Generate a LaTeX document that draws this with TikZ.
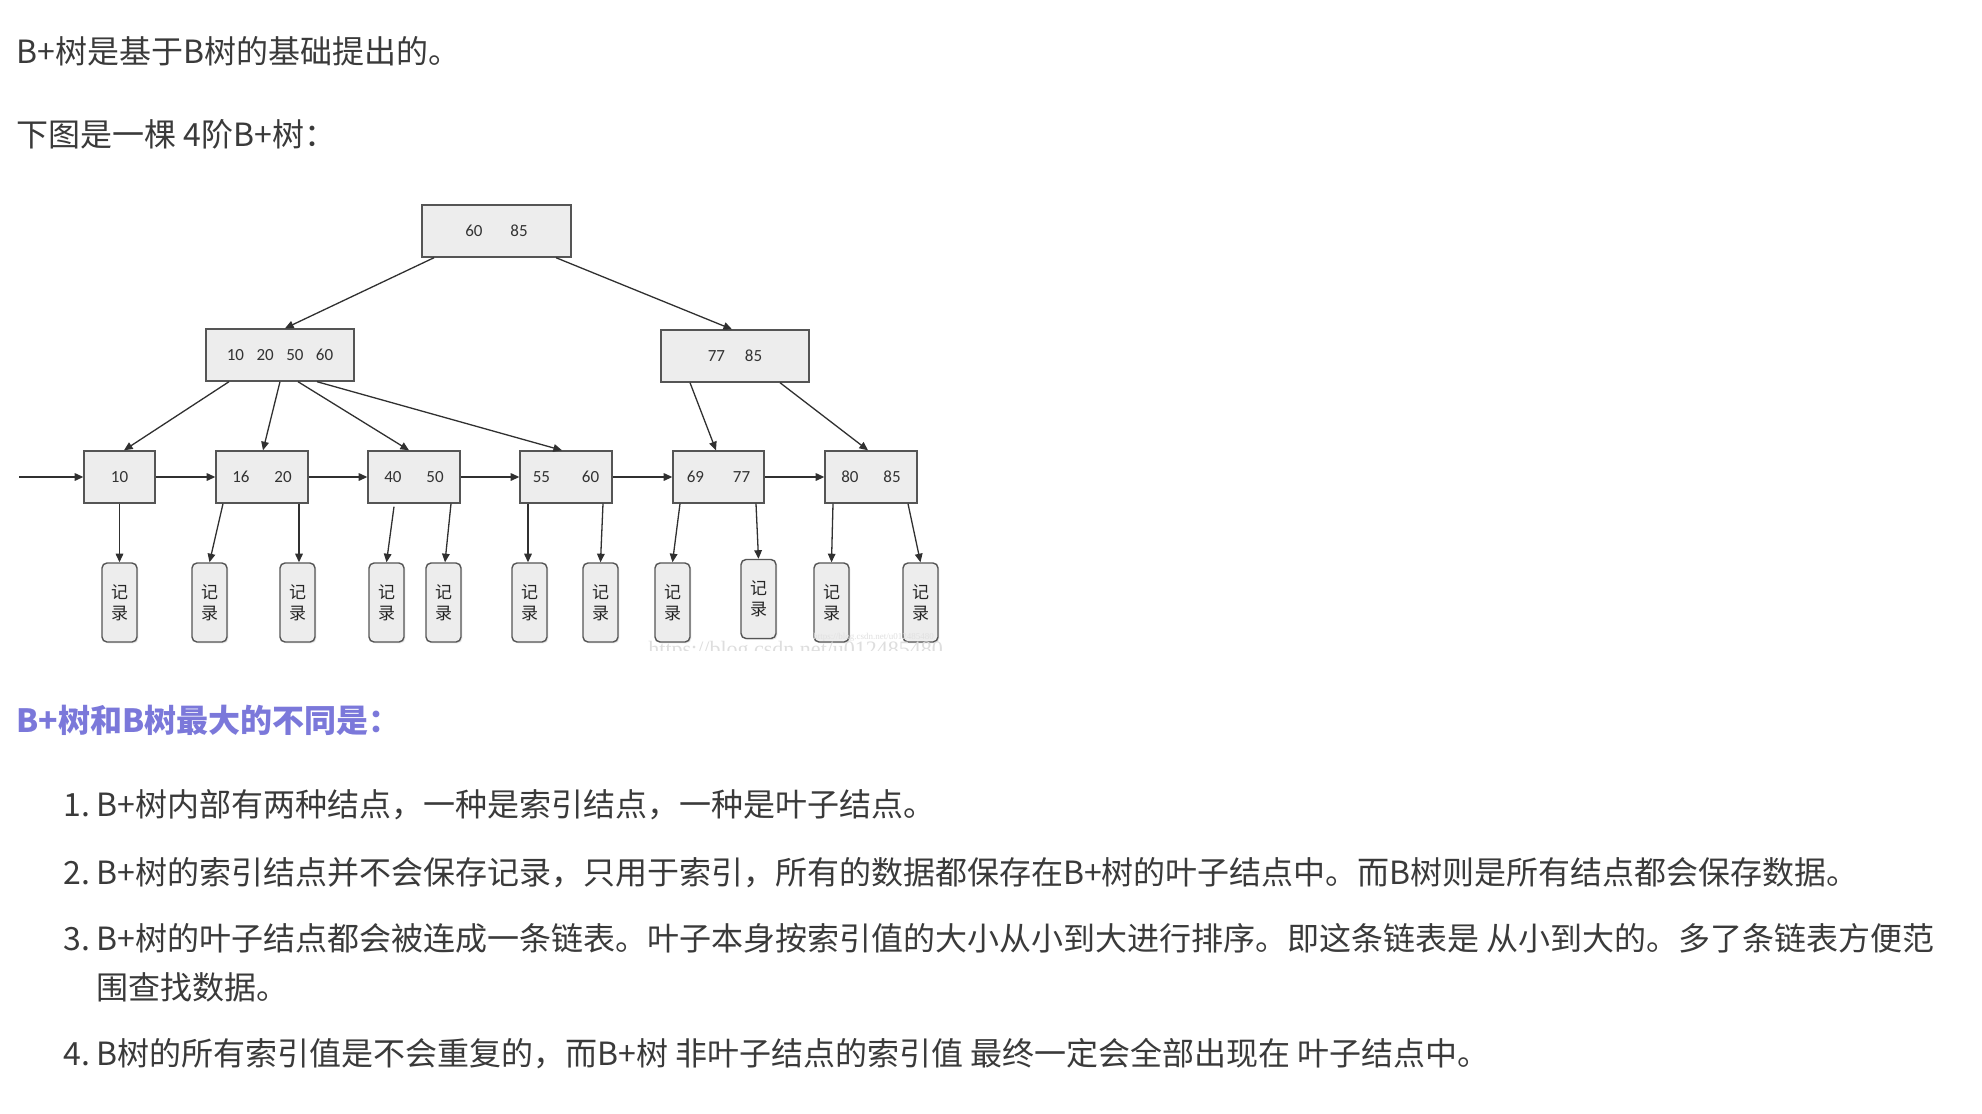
\documentclass[tikz,border=0pt]{standalone}
\usepackage{fontspec}
\setmainfont{Noto Sans CJK SC}
\newfontfamily\cjk{Noto Sans CJK SC}
\newfontfamily\numfont{Carlito}
\newfontfamily\wmfont{Liberation Serif}
\usetikzlibrary{arrows.meta,calc,shadows}
\newdimen\pxu \pxu=0.5pt
\definecolor{txt}{HTML}{3A3A3A}
\definecolor{head}{HTML}{7B78DA}
\definecolor{boxfill}{HTML}{EDEDED}
\definecolor{boxline}{HTML}{555555}
\definecolor{arr}{HTML}{303030}
\begin{document}
\begin{tikzpicture}[x=0.5pt,y=-0.5pt,
  body/.style={anchor=base west,inner sep=0pt,text=txt,font=\cjk\fontsize{16pt}{20pt}\selectfont},
  heading/.style={anchor=base west,inner sep=0pt,text=head,font=\cjk\bfseries\fontsize{16pt}{20pt}\selectfont},
  keybox/.style={draw=boxline,fill=boxfill,line width=0.7pt,inner sep=0pt,minimum height=52\pxu,
    font=\numfont\fontsize{8.5pt}{9pt}\selectfont,text=black!80,
    drop shadow={shadow xshift=0.7pt,shadow yshift=-0.7pt,opacity=0.18}},
  recbox/.style={draw=boxline,fill=boxfill,line width=0.7pt,rounded corners=2.5pt,inner sep=0pt,
    minimum width=35\pxu,minimum height=79\pxu,align=center,text=black!85,
    font=\cjk\fontsize{8.5pt}{10.5pt}\selectfont,
    drop shadow={shadow xshift=0.7pt,shadow yshift=-0.7pt,opacity=0.18}},
  link/.style={draw=arr,line width=0.65pt,-{Triangle[length=4.3pt,width=3.8pt]}}
]
\useasboundingbox[fill=white] (0,0) rectangle (1982,1114);

% ---- texts ----
\node[body] (t1) at (16,63) {B+树是基于B树的基础提出的。};
\node[body] (t2) at (16,146) {下图是一棵 4阶B+树：};
\node[heading] (h) at (16,732) {B+树和B树最大的不同是：};
\node[body] (n1) at (63,816) {1.};
\node[body] (i1) at (96,816) {B+树内部有两种结点，一种是索引结点，一种是叶子结点。};
\node[body] (n2) at (63,884) {2.};
\node[body] (i2) at (96,884) {B+树的索引结点并不会保存记录，只用于索引，所有的数据都保存在B+树的叶子结点中。而B树则是所有结点都会保存数据。};
\node[body] (n3) at (63,950) {3.};
\node[body] (i3) at (96,950) {B+树的叶子结点都会被连成一条链表。叶子本身按索引值的大小从小到大进行排序。即这条链表是 从小到大的。多了条链表方便范};
\node[body] (i3b) at (96,999) {围查找数据。};
\node[body] (n4) at (63,1065) {4.};
\node[body] (i4) at (96,1065) {B树的所有索引值是不会重复的，而B+树 非叶子结点的索引值 最终一定会全部出现在 叶子结点中。};

% ---- tree ----
\node[keybox,minimum width=149\pxu] (root) at (496.5,231) {60\hspace{27.8\pxu}85};
\node[keybox,minimum width=148\pxu] (l2a) at (280,355) {10\hspace{12.5\pxu}20\hspace{12.5\pxu}50\hspace{12.5\pxu}60};
\node[keybox,minimum width=148\pxu] (l2b) at (735,356) {77\hspace{19.8\pxu}85};

\node[keybox,minimum width=71\pxu] (la) at (119.5,477) {10};
\node[keybox,minimum width=92\pxu] (lb) at (262,477) {16\hspace{24.8\pxu}20};
\node[keybox,minimum width=92\pxu] (lc) at (414,477) {40\hspace{24.8\pxu}50};
\node[keybox,minimum width=92\pxu] (ld) at (566,477) {55\hspace{31.8\pxu}60};
\node[keybox,minimum width=91\pxu] (le) at (718.5,477) {69\hspace{28.8\pxu}77};
\node[keybox,minimum width=92\pxu] (lf) at (871,477) {80\hspace{24.8\pxu}85};

\node[recbox] (r1) at (119.5,602.5) {记\\录};
\node[recbox] (r2) at (209.5,602.5) {记\\录};
\node[recbox] (r3) at (297.5,602.5) {记\\录};
\node[recbox] (r4) at (386.5,602.5) {记\\录};
\node[recbox] (r5) at (443.5,602.5) {记\\录};
\node[recbox] (r6) at (529.5,602.5) {记\\录};
\node[recbox] (r7) at (600.5,602.5) {记\\录};
\node[recbox] (r8) at (672.5,602.5) {记\\录};
\node[recbox] (r9) at (758.5,599) {记\\录};
\node[recbox] (r10) at (831.5,602.5) {记\\录};
\node[recbox] (r11) at (920.5,602.5) {记\\录};

\coordinate (start) at (19,477);

% index links
\draw[link] ($(root.south)+(-62.5,0)$) -- ($(l2a.north)+(5,0)$);
\draw[link] ($(root.south)+(59.5,0)$) -- ($(l2b.north)+(-3,0)$);
\draw[link] ($(l2a.south)+(-51,0)$) -- ($(la.north)+(4.5,0)$);
\draw[link] ($(l2a.south)+(0,0)$) -- ($(lb.north)+(1,0)$);
\draw[link] ($(l2a.south)+(18,0)$) -- ($(lc.north)+(-5,0)$);
\draw[link] ($(l2a.south)+(37,0)$) -- ($(ld.north)+(-4,0)$);
\draw[link] ($(l2b.south)+(-45,0)$) -- ($(le.north)+(-2.5,0)$);
\draw[link] ($(l2b.south)+(45,0)$) -- ($(lf.north)+(-3,0)$);

% leaf chain
\draw[link] (start) -- (la.west);
\draw[link] (la.east) -- (lb.west);
\draw[link] (lb.east) -- (lc.west);
\draw[link] (lc.east) -- (ld.west);
\draw[link] (ld.east) -- (le.west);
\draw[link] (le.east) -- (lf.west);

% record links
\draw[link] (la.south) -- (r1.north);
\draw[link] ($(lb.south)+(-39,0)$) -- (r2.north);
\draw[link] ($(lb.south)+(37,0)$) -- ($(r3.north)+(1.5,0)$);
\draw[link] ($(lc.south)+(-20,3)$) -- (r4.north);
\draw[link] ($(lc.south)+(37,0)$) -- ($(r5.north)+(1.5,0)$);
\draw[link] ($(ld.south)+(-38,0)$) -- ($(r6.north)+(-1.5,0)$);
\draw[link] ($(ld.south)+(37,0)$) -- (r7.north);
\draw[link] ($(le.south)+(-38.5,0)$) -- (r8.north);
\draw[link] ($(le.south)+(37.5,0)$) -- (r9.north);
\draw[link] ($(lf.south)+(-38,0)$) -- (r10.north);
\draw[link] ($(lf.south)+(37,0)$) -- (r11.north);

% watermark
\begin{scope}
\clip (600,600) rectangle (1000,650);
\node[anchor=base west,inner sep=0pt,text=black!13,font=\wmfont\fontsize{11pt}{11pt}\selectfont] (wm) at (648,656) {https://blog.csdn.net/u012485480};
\end{scope}
\node[anchor=west,inner sep=0pt,text=black!12,font=\wmfont\fontsize{4.5pt}{5pt}\selectfont] (wm2) at (813,637) {https://blog.csdn.net/u012485480};
\end{tikzpicture}
\end{document}
